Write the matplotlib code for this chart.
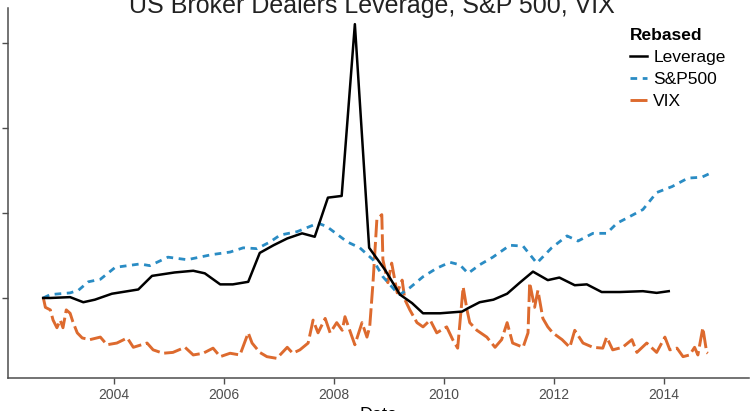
"""US broker dealers leverage vs S&P 500 and VIX, all rebased to the first observation."""
import matplotlib
matplotlib.use("Agg")
import matplotlib.pyplot as plt
import numpy as np

# Leverage (quarterly-ish, rebased), decimal years
lev_year = [2002.71, 2002.84, 2003.20, 2003.44, 2003.65, 2003.96, 2004.44, 2004.69,
            2005.10, 2005.44, 2005.65, 2005.93, 2006.16, 2006.44, 2006.65, 2006.90,
            2007.15, 2007.42, 2007.65, 2007.89, 2008.14, 2008.38, 2008.64, 2008.93,
            2009.20, 2009.42, 2009.62, 2009.93, 2010.33, 2010.44, 2010.65, 2010.90,
            2011.15, 2011.38, 2011.62, 2011.89, 2012.10, 2012.38, 2012.60, 2012.87,
            2013.20, 2013.62, 2013.87, 2014.09]
lev_val = [1.00, 1.00, 1.01, 0.95, 0.98, 1.05, 1.10, 1.26,
           1.30, 1.32, 1.29, 1.16, 1.16, 1.19, 1.53, 1.62,
           1.70, 1.76, 1.72, 2.18, 2.20, 4.22, 1.59, 1.33,
           1.04, 0.94, 0.82, 0.82, 0.84, 0.88, 0.95, 0.98,
           1.05, 1.18, 1.31, 1.21, 1.24, 1.15, 1.16, 1.07,
           1.07, 1.08, 1.06, 1.08]

# S&P 500 (rebased)
spx_year = [2002.71, 2002.84, 2003.20, 2003.35, 2003.53, 2003.75, 2004.02, 2004.47,
            2004.65, 2004.98, 2005.33, 2005.78, 2006.11, 2006.35, 2006.60, 2006.84,
            2007.02, 2007.33, 2007.71, 2007.87, 2008.24, 2008.47, 2008.71, 2008.89,
            2009.11, 2009.20, 2009.38, 2009.62, 2009.87, 2010.11, 2010.29, 2010.44,
            2010.65, 2010.89, 2011.20, 2011.44, 2011.69, 2011.96, 2012.24, 2012.44,
            2012.71, 2012.96, 2013.15, 2013.33, 2013.62, 2013.87, 2014.15, 2014.44,
            2014.69, 2014.89]
spx_val = [1.00, 1.04, 1.06, 1.09, 1.19, 1.22, 1.36, 1.40,
           1.38, 1.48, 1.45, 1.51, 1.54, 1.59, 1.58, 1.66,
           1.74, 1.78, 1.88, 1.84, 1.66, 1.59, 1.45, 1.25,
           1.09, 1.04, 1.12, 1.25, 1.35, 1.42, 1.39, 1.29,
           1.39, 1.48, 1.62, 1.61, 1.41, 1.59, 1.73, 1.67,
           1.76, 1.76, 1.88, 1.94, 2.04, 2.24, 2.31, 2.41,
           2.42, 2.48]

# VIX (rebased)
vix_year = [2002.71, 2002.75, 2002.84, 2002.89, 2002.96, 2003.02, 2003.07, 2003.13,
            2003.20, 2003.25, 2003.33, 2003.42, 2003.56, 2003.75, 2003.87, 2004.05,
            2004.24, 2004.35, 2004.60, 2004.71, 2004.89, 2005.07, 2005.29, 2005.44,
            2005.62, 2005.80, 2005.93, 2006.11, 2006.29, 2006.44, 2006.51, 2006.65,
            2006.78, 2006.96, 2007.15, 2007.25, 2007.38, 2007.53, 2007.62, 2007.71,
            2007.84, 2007.93, 2008.05, 2008.15, 2008.20, 2008.33, 2008.38, 2008.51,
            2008.60, 2008.65, 2008.71, 2008.78, 2008.87, 2008.89, 2008.98, 2009.05,
            2009.15, 2009.24, 2009.29, 2009.38, 2009.51, 2009.62, 2009.75, 2009.87,
            2010.05, 2010.16, 2010.25, 2010.35, 2010.42, 2010.47, 2010.60, 2010.78,
            2010.93, 2011.05, 2011.15, 2011.25, 2011.44, 2011.53, 2011.56, 2011.65,
            2011.71, 2011.80, 2011.89, 2011.98, 2012.15, 2012.29, 2012.38, 2012.53,
            2012.71, 2012.89, 2012.96, 2013.07, 2013.25, 2013.42, 2013.51, 2013.69,
            2013.87, 2014.02, 2014.11, 2014.24, 2014.35, 2014.47, 2014.56, 2014.62,
            2014.71, 2014.78, 2014.80]
vix_val = [1.01, 0.89, 0.86, 0.74, 0.65, 0.74, 0.65, 0.86,
           0.82, 0.72, 0.59, 0.53, 0.51, 0.54, 0.45, 0.47,
           0.53, 0.42, 0.47, 0.39, 0.35, 0.36, 0.42, 0.33,
           0.35, 0.41, 0.31, 0.35, 0.33, 0.59, 0.47, 0.36,
           0.31, 0.29, 0.42, 0.35, 0.39, 0.47, 0.74, 0.59,
           0.76, 0.59, 0.71, 0.62, 0.78, 0.54, 0.45, 0.71,
           0.54, 0.66, 1.18, 1.92, 1.98, 1.45, 1.18, 1.41,
           1.06, 1.21, 0.98, 0.86, 0.71, 0.66, 0.74, 0.59,
           0.66, 0.51, 0.41, 1.13, 0.86, 0.71, 0.62, 0.54,
           0.42, 0.51, 0.71, 0.47, 0.42, 0.59, 1.18, 0.89,
           1.09, 0.76, 0.66, 0.59, 0.51, 0.42, 0.62, 0.47,
           0.42, 0.41, 0.54, 0.39, 0.42, 0.51, 0.36, 0.47,
           0.36, 0.54, 0.39, 0.41, 0.31, 0.33, 0.42, 0.33,
           0.65, 0.36, 0.35]

year_ticks = [2004, 2006, 2008, 2010, 2012, 2014]
value_ticks = [1, 2, 3, 4]

BLUE = "#2a8cc4"
ORANGE = "#dd6a2e"
AXIS_GREY = "#4d4d4d"

plt.rcParams["font.family"] = ["Liberation Sans", "DejaVu Sans"]

fig = plt.figure(figsize=(7.53, 4.11), dpi=100)
ax = fig.add_axes([8 / 753, 1 - 378 / 411, 741 / 753, 370 / 411])

ax.plot(vix_year, vix_val, color=ORANGE, lw=2.1, dashes=(6, 1.6), label="VIX", zorder=2)
ax.plot(spx_year, spx_val, color=BLUE, lw=2.0, dashes=(2.4, 2.0), label="S&P500", zorder=3)
ax.plot(lev_year, lev_val, color="black", lw=1.8, label="Leverage", zorder=4)

ax.set_xlim(2002.07, 2015.55)
ax.set_ylim(0.059, 4.41)
ax.set_xticks(year_ticks)
ax.set_xticklabels([str(y) for y in year_ticks])
ax.set_yticks(value_ticks)
ax.set_yticklabels([])

for side in ("top", "right"):
    ax.spines[side].set_visible(False)
for side in ("left", "bottom"):
    ax.spines[side].set_color(AXIS_GREY)
    ax.spines[side].set_linewidth(1.1)
ax.tick_params(axis="both", direction="out", length=4, width=1.0, color=AXIS_GREY,
               labelcolor="#4d4d4d", labelsize=10, pad=3)

ax.set_xlabel("Date", fontsize=13, labelpad=4)
fig.text(0.494, 1 - 6 / 411, "US Broker Dealers Leverage, S&P 500, VIX", ha="center",
         va="center", fontsize=18, color="#222222")

handles, labels = ax.get_legend_handles_labels()
order = [2, 1, 0]
leg = ax.legend([handles[i] for i in order], [labels[i] for i in order],
                title="Rebased", loc="upper left", bbox_to_anchor=(0.839, 0.947),
                frameon=False, handlelength=1.0, handletextpad=0.35, labelspacing=0.40,
                fontsize=12.5, alignment="left", borderaxespad=0, borderpad=0)
leg.get_title().set_fontweight("bold")
leg.get_title().set_fontsize(12.5)

fig.savefig("out.png", dpi=100)
